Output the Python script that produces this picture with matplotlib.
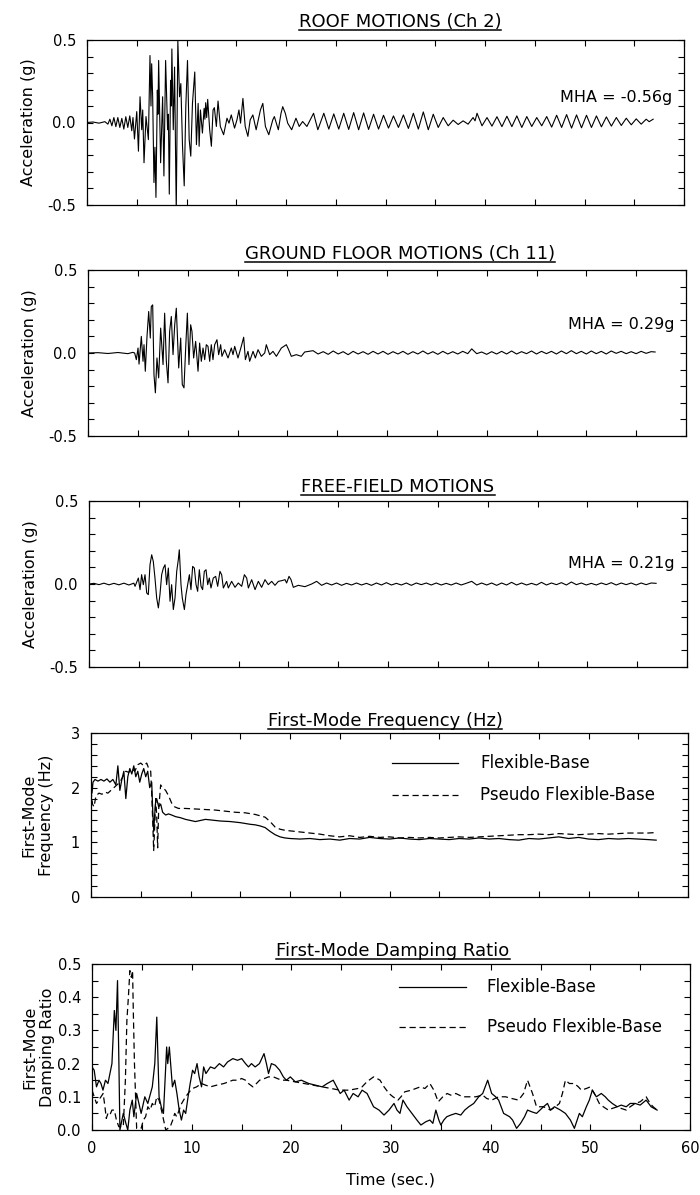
import numpy as np
import matplotlib.pyplot as plt
from matplotlib.ticker import MultipleLocator
from matplotlib.lines import Line2D

plt.rcParams['font.family'] = ['DejaVu Sans']

# (time s, acceleration g), Ch 2
roof = [(0.0, 0.0), (0.6, 0.003), (1.2, -0.004), (1.8, 0.005), (2.1, -0.01), (2.3, 0.02),
        (2.5, -0.02), (2.7, 0.03), (2.9, -0.025), (3.1, 0.03), (3.3, -0.03), (3.5, 0.025),
        (3.7, -0.04), (3.9, 0.035), (4.1, -0.03), (4.3, 0.04), (4.5, -0.05), (4.62, 0.03),
        (4.77, -0.10), (5.0, 0.066), (5.17, -0.174), (5.33, 0.156), (5.5, -0.044), (5.6, 0.076),
        (5.73, -0.244), (5.93, 0.036), (6.17, -0.104), (6.33, 0.406), (6.43, 0.1), (6.5, 0.356),
        (6.6, 0.156), (6.73, -0.364), (6.83, -0.15), (6.93, -0.454), (7.07, 0.196), (7.13, 0.05),
        (7.2, 0.376), (7.4, -0.244), (7.6, 0.156), (7.73, -0.324), (7.9, 0.376), (8.1, -0.044),
        (8.18, 0.05), (8.27, -0.434), (8.4, 0.256), (8.47, 0.1), (8.53, 0.446), (8.67, -0.044),
        (8.8, 0.336), (8.97, -0.544), (9.13, 0.496), (9.3, 0.156), (9.43, 0.236), (9.6, -0.144),
        (9.77, -0.384), (9.93, 0.096), (10.1, 0.376), (10.27, -0.104), (10.43, -0.204),
        (10.6, 0.116), (10.83, 0.306), (11.0, -0.134), (11.17, 0.116), (11.27, -0.144),
        (11.4, 0.076), (11.6, -0.064), (11.77, 0.086), (11.85, 0.02), (11.93, 0.12),
        (12.03, 0.03), (12.13, 0.14), (12.33, -0.044), (12.5, -0.144), (12.67, 0.076),
        (12.8, 0.09), (13.0, -0.024), (13.17, 0.13), (13.4, -0.024), (13.73, -0.074),
        (14.07, 0.026), (14.27, -0.004), (14.5, 0.046), (14.83, -0.034), (15.07, 0.016),
        (15.27, 0.076), (15.43, -0.004), (15.67, 0.146), (15.9, -0.024), (16.17, -0.084),
        (16.4, 0.016), (16.67, 0.046), (17.0, -0.044), (17.43, 0.076), (17.67, 0.116),
        (17.93, -0.024), (18.27, -0.074), (18.67, 0.016), (18.83, 0.036), (19.23, -0.044),
        (19.5, 0.056), (19.67, 0.096), (19.93, 0.056), (20.17, -0.004), (20.57, -0.044),
        (21.0, 0.026), (21.33, -0.024), (21.67, 0.006), (22.1, -0.024), (22.77, 0.056),
        (23.2, -0.044), (23.8, 0.056), (24.3, -0.04), (24.8, 0.052), (25.3, -0.04), (25.8, 0.056),
        (26.3, -0.042), (26.8, 0.06), (27.3, -0.044), (27.8, 0.058), (28.3, -0.042), (28.8, 0.05),
        (29.3, -0.04), (29.8, 0.044), (30.3, -0.034), (30.8, 0.04), (31.3, -0.03), (31.8, 0.046),
        (32.3, -0.036), (32.8, 0.056), (33.3, -0.04), (33.8, 0.064), (34.3, -0.044), (34.8, 0.05),
        (35.3, -0.03), (35.8, 0.03), (36.3, -0.02), (36.8, 0.014), (37.3, -0.012), (37.8, 0.01),
        (38.3, -0.01), (38.8, 0.03), (39.0, 0.01), (39.2, 0.056), (39.7, -0.02), (40.2, 0.03),
        (40.7, -0.022), (41.2, 0.035), (41.7, -0.025), (42.2, 0.038), (42.7, -0.025), (43.2, 0.04),
        (43.7, -0.03), (44.2, 0.036), (44.7, -0.024), (45.2, 0.03), (45.7, -0.02), (46.2, 0.036),
        (46.7, -0.028), (47.2, 0.044), (47.7, -0.03), (48.2, 0.048), (48.7, -0.034), (49.2, 0.046),
        (49.7, -0.032), (50.2, 0.044), (50.7, -0.03), (51.2, 0.04), (51.7, -0.026), (52.2, 0.034),
        (52.7, -0.022), (53.2, 0.03), (53.7, -0.018), (54.2, 0.026), (54.7, -0.014), (55.2, 0.022),
        (55.7, -0.01), (56.2, 0.02), (56.5, 0.005), (56.9, 0.02)]

# ground floor, Ch 11
ground = [(0.0, 0.0), (1.0, 0.002), (2.0, -0.003), (3.0, 0.003), (4.0, -0.004), (4.5, 0.004),
          (4.68, 0.0), (4.85, -0.04), (5.02, 0.03), (5.12, -0.067), (5.35, 0.1), (5.52, -0.05),
          (5.62, 0.05), (5.75, -0.11), (5.92, 0.1), (6.09, 0.25), (6.25, 0.09), (6.35, 0.28),
          (6.49, 0.29), (6.62, -0.13), (6.76, -0.24), (6.92, -0.03), (7.09, -0.15), (7.29, 0.15),
          (7.53, -0.07), (7.69, 0.24), (7.86, -0.05), (8.03, -0.18), (8.19, 0.13), (8.36, 0.22),
          (8.53, -0.01), (8.7, 0.17), (8.86, 0.27), (9.1, -0.09), (9.3, 0.09), (9.46, -0.19),
          (9.63, -0.21), (9.8, 0.03), (9.97, 0.24), (10.13, -0.07), (10.3, 0.17), (10.43, 0.13),
          (10.6, -0.03), (10.8, 0.07), (11.04, -0.11), (11.2, 0.06), (11.37, -0.05), (11.54, 0.03),
          (11.71, -0.04), (11.87, 0.05), (12.04, 0.04), (12.21, -0.05), (12.37, 0.05),
          (12.54, -0.04), (12.71, 0.05), (12.94, 0.08), (13.11, -0.01), (13.31, 0.05),
          (13.44, -0.02), (13.71, 0.02), (14.05, -0.03), (14.38, 0.03), (14.55, -0.01),
          (14.72, 0.04), (15.05, -0.03), (15.38, 0.04), (15.62, 0.095), (15.79, -0.04),
          (16.05, 0.01), (16.22, -0.05), (16.56, 0.01), (16.79, -0.03), (17.06, 0.02),
          (17.39, -0.02), (17.73, 0.0), (17.89, 0.05), (18.23, -0.01), (18.56, 0.01),
          (18.9, -0.02), (19.4, 0.03), (19.9, 0.05), (20.13, 0.02), (20.4, -0.02), (20.9, -0.01),
          (21.4, -0.02), (21.74, 0.006), (22.58, 0.014), (23.08, -0.006), (23.6, 0.008),
          (24.1, -0.008), (24.6, 0.012), (25.1, -0.006), (25.6, 0.008), (26.1, -0.01), (26.6, 0.01),
          (27.1, -0.006), (27.6, 0.008), (28.1, -0.008), (28.6, 0.01), (29.1, -0.006), (29.6, 0.01),
          (30.1, -0.008), (30.6, 0.008), (31.1, -0.006), (31.6, 0.01), (32.1, -0.008), (32.6, 0.008),
          (33.1, -0.006), (33.6, 0.012), (34.1, -0.006), (34.6, 0.008), (35.1, -0.008), (35.6, 0.01),
          (36.1, -0.006), (36.6, 0.008), (37.1, -0.006), (37.6, 0.01), (38.1, -0.004), (38.5, 0.025),
          (39.0, -0.004), (39.5, 0.006), (40.0, -0.008), (40.5, 0.008), (41.0, -0.006), (41.5, 0.01),
          (42.0, -0.006), (42.5, 0.012), (43.0, -0.006), (43.5, 0.008), (44.0, -0.004), (44.5, 0.012),
          (45.0, -0.006), (45.5, 0.01), (46.0, -0.004), (46.5, 0.01), (47.0, -0.006), (47.5, 0.012),
          (48.0, -0.004), (48.5, 0.014), (49.0, -0.004), (49.5, 0.01), (50.0, -0.006), (50.5, 0.012),
          (51.0, -0.004), (51.5, 0.01), (52.0, -0.006), (52.5, 0.012), (53.0, -0.002), (53.5, 0.01),
          (54.0, -0.004), (54.5, 0.008), (55.0, -0.004), (55.5, 0.01), (56.0, -0.002), (56.5, 0.008),
          (56.9, 0.006)]

# free field
free = [(0.0, 0.0), (0.5, 0.004), (1.0, -0.004), (1.5, 0.005), (2.0, -0.005), (2.5, 0.004),
        (3.0, -0.005), (3.5, 0.005), (4.0, -0.006), (4.5, 0.005), (4.62, -0.014), (4.95, 0.036),
        (5.12, -0.034), (5.28, 0.056), (5.45, -0.004), (5.62, 0.056), (5.79, -0.054),
        (5.95, -0.064), (6.12, 0.116), (6.29, 0.176), (6.45, 0.136), (6.62, 0.036),
        (6.79, -0.084), (6.96, -0.144), (7.12, -0.064), (7.29, 0.056), (7.46, 0.096),
        (7.63, 0.116), (7.79, -0.004), (7.96, 0.096), (8.13, -0.104), (8.29, -0.004),
        (8.46, -0.154), (8.63, -0.084), (8.8, 0.076), (8.96, 0.146), (9.06, 0.206),
        (9.23, -0.004), (9.36, -0.084), (9.57, -0.154), (9.73, -0.064), (9.9, -0.004),
        (10.07, 0.056), (10.23, -0.034), (10.4, 0.106), (10.57, 0.096), (10.74, -0.004),
        (10.9, -0.044), (11.07, 0.086), (11.24, -0.014), (11.4, -0.034), (11.57, 0.076),
        (11.74, 0.086), (11.91, -0.004), (12.07, 0.036), (12.24, -0.024), (12.47, 0.036),
        (12.71, 0.046), (12.91, -0.014), (13.14, 0.076), (13.31, 0.056), (13.48, -0.024),
        (13.81, 0.016), (13.98, -0.024), (14.31, 0.016), (14.65, -0.02), (14.98, 0.006),
        (15.32, -0.014), (15.59, 0.056), (15.82, 0.036), (15.99, -0.024), (16.32, 0.026),
        (16.66, -0.034), (16.99, 0.016), (17.32, -0.02), (17.66, 0.026), (17.99, -0.004),
        (18.33, 0.016), (18.66, -0.008), (19.0, 0.016), (19.33, 0.02), (19.67, 0.026),
        (19.83, 0.006), (20.07, 0.046), (20.27, 0.026), (20.5, -0.02), (21.0, -0.008),
        (21.67, -0.016), (22.34, 0.0), (22.84, 0.016), (23.34, -0.008), (23.84, 0.006),
        (24.34, -0.006), (24.84, 0.006), (25.34, -0.008), (25.84, 0.004), (26.34, -0.006),
        (26.84, 0.006), (27.34, -0.006), (27.84, 0.004), (28.34, -0.008), (28.84, 0.006),
        (29.34, -0.006), (29.84, 0.008), (30.34, -0.006), (30.84, 0.004), (31.34, -0.006),
        (31.84, 0.006), (32.34, -0.008), (32.84, 0.006), (33.34, -0.004), (33.84, 0.006),
        (34.34, -0.006), (34.84, 0.006), (35.34, -0.006), (35.84, 0.004), (36.34, -0.006),
        (36.84, 0.006), (37.34, -0.006), (37.84, 0.004), (38.4, 0.016), (38.9, -0.006),
        (39.4, 0.006), (39.9, -0.006), (40.4, 0.006), (40.9, -0.008), (41.4, 0.006),
        (41.9, -0.006), (42.4, 0.01), (42.9, -0.006), (43.4, 0.006), (43.9, -0.006),
        (44.4, 0.004), (44.9, -0.006), (45.4, 0.01), (45.9, -0.006), (46.4, 0.006),
        (46.9, -0.004), (47.4, 0.008), (47.9, -0.006), (48.4, 0.012), (48.9, -0.004),
        (49.4, 0.006), (49.9, -0.006), (50.4, 0.004), (50.9, -0.006), (51.4, 0.006),
        (51.9, -0.004), (52.4, 0.008), (52.9, -0.006), (53.4, 0.006), (53.9, -0.004),
        (54.4, 0.006), (54.9, -0.006), (55.4, 0.006), (55.9, -0.004), (56.4, 0.006), (56.9, 0.004)]

# first-mode frequency (Hz)
freq_flex = [(0.0, 2.2), (0.1, 1.9), (0.2, 2.1), (0.4, 2.15), (0.7, 2.12), (1.0, 2.15),
             (1.3, 2.12), (1.6, 2.16), (1.9, 2.1), (2.2, 2.15), (2.5, 2.05), (2.7, 2.4),
             (2.9, 1.95), (3.1, 2.15), (3.3, 2.3), (3.5, 1.8), (3.7, 2.2), (3.9, 2.35),
             (4.1, 2.25), (4.3, 2.4), (4.5, 2.2), (4.7, 2.3), (4.9, 2.1), (5.1, 2.25),
             (5.3, 2.35), (5.5, 2.2), (5.7, 2.3), (5.9, 2.0), (6.1, 2.1), (6.2, 1.6), (6.3, 1.2),
             (6.4, 1.5), (6.5, 1.75), (6.6, 1.8), (6.8, 1.65), (7.0, 1.7), (7.2, 1.55),
             (7.5, 1.5), (7.8, 1.52), (8.1, 1.5), (8.5, 1.47), (9.0, 1.45), (9.5, 1.42),
             (10.0, 1.40), (10.5, 1.38), (11.0, 1.40), (11.5, 1.42), (12.0, 1.41), (12.5, 1.40),
             (13.0, 1.39), (14.0, 1.38), (15.0, 1.36), (16.0, 1.33), (16.5, 1.32), (17.0, 1.30),
             (17.5, 1.27), (18.0, 1.20), (18.5, 1.14), (19.0, 1.10), (19.5, 1.08), (20.0, 1.07),
             (21.0, 1.06), (22.0, 1.07), (23.0, 1.05), (24.0, 1.06), (25.0, 1.04), (26.0, 1.07),
             (27.0, 1.06), (28.0, 1.09), (29.0, 1.07), (30.0, 1.06), (31.0, 1.08), (32.0, 1.06),
             (33.0, 1.05), (34.0, 1.07), (35.0, 1.06), (36.0, 1.05), (37.0, 1.07), (38.0, 1.06),
             (39.0, 1.08), (40.0, 1.06), (41.0, 1.07), (42.0, 1.05), (43.0, 1.04), (44.0, 1.07),
             (45.0, 1.06), (46.0, 1.08), (47.0, 1.10), (48.0, 1.07), (49.0, 1.09), (50.0, 1.06),
             (51.0, 1.05), (52.0, 1.07), (53.0, 1.06), (54.0, 1.07), (55.0, 1.06), (56.0, 1.05),
             (56.8, 1.04)]
freq_pseudo = [(0.0, 1.95), (0.15, 1.7), (0.3, 1.65), (0.5, 1.85), (0.8, 1.9), (1.1, 1.88),
               (1.4, 1.92), (1.7, 1.9), (2.0, 1.95), (2.3, 2.0), (2.6, 2.05), (2.9, 2.1),
               (3.2, 2.2), (3.5, 2.3), (3.8, 2.28), (4.1, 2.35), (4.4, 2.3), (4.7, 2.42),
               (5.0, 2.45), (5.3, 2.4), (5.6, 2.45), (5.8, 2.35), (6.0, 2.3), (6.1, 1.9),
               (6.2, 1.4), (6.3, 0.85), (6.4, 1.3), (6.5, 1.8), (6.6, 1.5), (6.7, 0.9), (6.8, 1.6),
               (7.0, 2.05), (7.2, 2.0), (7.5, 1.95), (7.8, 1.85), (8.1, 1.72), (8.4, 1.65),
               (8.8, 1.62), (9.5, 1.62), (10.5, 1.61), (11.5, 1.6), (12.5, 1.59), (13.5, 1.57),
               (14.5, 1.55), (15.5, 1.54), (16.5, 1.51), (17.5, 1.46), (18.0, 1.38), (18.5, 1.28),
               (19.0, 1.24), (19.5, 1.22), (20.0, 1.21), (21.0, 1.19), (22.0, 1.17), (23.0, 1.15),
               (24.0, 1.12), (25.0, 1.10), (26.0, 1.12), (27.0, 1.09), (28.0, 1.11), (29.0, 1.09),
               (30.0, 1.1), (31.0, 1.08), (32.0, 1.09), (33.0, 1.08), (34.0, 1.09), (35.0, 1.08),
               (36.0, 1.09), (37.0, 1.1), (38.0, 1.09), (39.0, 1.1), (40.0, 1.11), (41.0, 1.12),
               (42.0, 1.13), (43.0, 1.14), (44.0, 1.14), (45.0, 1.15), (46.0, 1.14), (47.0, 1.16),
               (48.0, 1.15), (49.0, 1.14), (50.0, 1.15), (51.0, 1.16), (52.0, 1.15), (53.0, 1.16),
               (54.0, 1.17), (55.0, 1.17), (56.0, 1.17), (56.8, 1.18)]

# first-mode damping ratio
damp_flex = [(0.0, 0.19), (0.22, 0.18), (0.45, 0.13), (0.7, 0.15), (0.9, 0.14), (1.1, 0.12),
             (1.35, 0.15), (1.6, 0.14), (1.8, 0.17), (2.0, 0.2), (2.24, 0.36), (2.4, 0.3),
             (2.56, 0.45), (2.7, 0.2), (2.8, 0.0), (3.14, 0.05), (3.4, 0.02), (3.59, 0.0),
             (3.8, 0.06), (4.04, 0.09), (4.2, 0.04), (4.48, 0.11), (4.7, 0.08), (4.93, 0.05),
             (5.3, 0.1), (5.6, 0.08), (6.05, 0.13), (6.3, 0.2), (6.5, 0.34), (6.73, 0.1),
             (6.95, 0.07), (7.17, 0.05), (7.49, 0.25), (7.6, 0.2), (7.76, 0.25), (8.07, 0.13),
             (8.3, 0.15), (8.52, 0.11), (8.75, 0.06), (8.97, 0.03), (9.19, 0.06), (9.4, 0.05),
             (9.64, 0.1), (9.85, 0.14), (10.09, 0.18), (10.3, 0.17), (10.54, 0.2), (10.75, 0.16),
             (10.99, 0.13), (11.2, 0.19), (11.43, 0.17), (11.88, 0.19), (12.3, 0.185),
             (12.78, 0.2), (13.2, 0.19), (13.6, 0.205), (14.13, 0.215), (14.6, 0.21),
             (15.02, 0.215), (15.4, 0.2), (15.7, 0.19), (16.0, 0.2), (16.37, 0.19), (16.8, 0.2),
             (17.26, 0.23), (17.5, 0.2), (17.71, 0.17), (18.0, 0.2), (18.39, 0.195),
             (18.83, 0.18), (19.2, 0.16), (19.5, 0.15), (19.9, 0.16), (20.4, 0.145),
             (21.0, 0.15), (21.75, 0.14), (22.4, 0.135), (23.09, 0.13), (23.6, 0.14),
             (24.2, 0.15), (24.9, 0.11), (25.3, 0.12), (25.8, 0.09), (26.2, 0.11), (26.7, 0.1),
             (27.1, 0.12), (27.6, 0.11), (28.25, 0.07), (28.8, 0.06), (29.3, 0.045),
             (29.8, 0.06), (30.3, 0.08), (30.6, 0.06), (30.9, 0.05), (31.2, 0.09), (31.6, 0.07),
             (32.1, 0.05), (32.6, 0.03), (33.0, 0.015), (33.5, 0.025), (33.9, 0.03),
             (34.2, 0.02), (34.5, 0.06), (34.8, 0.03), (35.0, 0.015), (35.3, 0.03),
             (35.6, 0.04), (36.0, 0.045), (36.5, 0.05), (37.0, 0.045), (37.4, 0.06),
             (37.8, 0.07), (38.3, 0.08), (38.8, 0.1), (39.2, 0.11), (39.7, 0.15), (40.1, 0.11),
             (40.5, 0.1), (40.8, 0.09), (41.3, 0.05), (41.9, 0.04), (42.2, 0.03), (42.6, 0.005),
             (43.0, 0.02), (43.4, 0.04), (43.7, 0.06), (44.1, 0.055), (44.6, 0.05),
             (45.3, 0.07), (45.7, 0.08), (46.0, 0.06), (46.4, 0.07), (47.0, 0.06),
             (47.5, 0.05), (48.0, 0.03), (48.4, 0.005), (48.9, 0.05), (49.2, 0.04),
             (49.6, 0.07), (49.9, 0.09), (50.2, 0.12), (50.6, 0.1), (51.1, 0.11),
             (51.5, 0.1), (51.8, 0.09), (52.2, 0.08), (52.7, 0.07), (53.1, 0.075),
             (53.6, 0.07), (54.0, 0.08), (54.5, 0.08), (55.0, 0.075), (55.6, 0.09),
             (56.1, 0.07), (56.7, 0.06)]
damp_pseudo = [(0.0, 0.12), (0.22, 0.1), (0.45, 0.08), (0.67, 0.09), (0.9, 0.1), (1.12, 0.11),
               (1.3, 0.07), (1.43, 0.035), (1.6, 0.05), (1.79, 0.045), (2.0, 0.06), (2.24, 0.06),
               (2.45, 0.03), (2.69, 0.01), (3.14, 0.01), (3.35, 0.15), (3.5, 0.33), (3.65, 0.4),
               (3.8, 0.48), (3.95, 0.46), (4.07, 0.48), (4.15, 0.35), (4.26, 0.2), (4.48, 0.005),
               (4.93, 0.005), (5.15, 0.03), (5.38, 0.04), (5.6, 0.07), (5.83, 0.06), (6.05, 0.08),
               (6.28, 0.07), (6.5, 0.1), (6.73, 0.09), (7.04, 0.05), (7.4, 0.0), (7.85, 0.01),
               (8.1, 0.03), (8.3, 0.05), (8.5, 0.04), (8.74, 0.06), (9.0, 0.08), (9.19, 0.09),
               (9.4, 0.1), (9.64, 0.11), (9.9, 0.12), (10.09, 0.125), (10.5, 0.13),
               (10.99, 0.14), (11.4, 0.135), (11.88, 0.13), (12.5, 0.135), (13.23, 0.14),
               (13.7, 0.145), (14.13, 0.15), (14.6, 0.15), (15.02, 0.155), (15.4, 0.15),
               (15.7, 0.14), (16.14, 0.13), (16.5, 0.14), (16.82, 0.15), (17.3, 0.155),
               (17.71, 0.16), (18.2, 0.16), (18.61, 0.155), (19.0, 0.15), (19.5, 0.15),
               (20.4, 0.145), (21.3, 0.14), (22.2, 0.135), (23.09, 0.13), (24.0, 0.125),
               (24.89, 0.12), (25.8, 0.12), (26.68, 0.125), (27.1, 0.13), (27.57, 0.145),
               (28.25, 0.16), (28.6, 0.155), (28.9, 0.15), (29.3, 0.13), (29.8, 0.11),
               (30.2, 0.1), (30.7, 0.09), (31.0, 0.1), (31.38, 0.115), (32.05, 0.12),
               (32.5, 0.125), (32.94, 0.13), (33.4, 0.125), (33.9, 0.14), (34.3, 0.12),
               (34.74, 0.085), (35.2, 0.1), (35.63, 0.11), (36.0, 0.105), (36.5, 0.11),
               (37.2, 0.1), (37.9, 0.1), (38.5, 0.1), (39.2, 0.105), (39.6, 0.095), (40.1, 0.09),
               (40.8, 0.1), (41.5, 0.1), (42.1, 0.095), (42.8, 0.09), (43.3, 0.11), (43.7, 0.15),
               (44.2, 0.11), (44.6, 0.07), (45.3, 0.07), (46.0, 0.06), (46.5, 0.07), (46.9, 0.08),
               (47.2, 0.11), (47.5, 0.15), (47.9, 0.14), (48.4, 0.14), (48.8, 0.13), (49.1, 0.12),
               (49.6, 0.125), (50.0, 0.13), (50.4, 0.11), (50.9, 0.08), (51.3, 0.07), (51.8, 0.06),
               (52.2, 0.065), (52.7, 0.07), (53.1, 0.065), (53.6, 0.06), (54.0, 0.07),
               (54.5, 0.08), (55.0, 0.085), (55.6, 0.1), (56.0, 0.08), (56.3, 0.07), (56.7, 0.06)]

W, H = 700, 1195
fig = plt.figure(figsize=(W / 100, H / 100), dpi=100)
TICK_FS = 10.5
LABEL_FS = 11.5


def px_axes(left, top, right, bottom):
    return fig.add_axes([left / W, 1 - bottom / H, (right - left) / W, (bottom - top) / H])


def style(ax, ymaj, ymin, labels_x=False):
    ax.set_xlim(0, 60)
    ax.xaxis.set_major_locator(MultipleLocator(10))
    ax.xaxis.set_minor_locator(MultipleLocator(5))
    ax.yaxis.set_major_locator(MultipleLocator(ymaj))
    ax.yaxis.set_minor_locator(MultipleLocator(ymin))
    ax.tick_params(which='both', direction='in', top=True, right=True, labelsize=TICK_FS,
                   width=0.8, length=4)
    ax.tick_params(axis='y', pad=8)
    ax.tick_params(axis='x', pad=8)
    if not labels_x:
        ax.tick_params(labelbottom=False)
    for s in ax.spines.values():
        s.set_linewidth(0.9)


def plot_series(ax, pairs, **kw):
    t, v = zip(*pairs)
    ax.plot(t, v, color='black', **kw)


titles = []


def add_title(text, x_px, base_px):
    t = fig.text(x_px / W, 1 - base_px / H, text, ha='center', va='baseline', fontsize=13)
    titles.append(t)


acc_panels = [
    ((87, 40, 684, 205), roof, 'ROOF MOTIONS (Ch 2)', 400, 27, 'MHA = -0.56g', 0.15),
    ((88, 270, 686, 436), ground, 'GROUND FLOOR MOTIONS (Ch 11)', 400, 259, 'MHA = 0.29g', 0.17),
    ((89, 501, 687, 667), free, 'FREE-FIELD MOTIONS', 398, 492, 'MHA = 0.21g', 0.122),
]
for box, series, title, tx, ty, mha, ymha in acc_panels:
    ax = px_axes(*box)
    plot_series(ax, series, lw=0.8)
    ax.set_ylim(-0.5, 0.5)
    style(ax, 0.5, 0.1)
    ax.yaxis.set_major_formatter(lambda v, p: f'{v:.1f}')
    ax.set_ylabel('Acceleration (g)', fontsize=LABEL_FS)
    ax.yaxis.set_label_coords(-0.085, 0.5)
    ax.text(58.8, ymha, mha, ha='right', va='center', fontsize=11.5)
    add_title(title, tx, ty)

# frequency panel
ax4 = px_axes(91, 733, 688, 897)
plot_series(ax4, freq_flex, lw=0.9)
plot_series(ax4, freq_pseudo, lw=0.9, dashes=(5, 3))
ax4.set_ylim(0, 3)
style(ax4, 1, 0.2)
ax4.set_ylabel('First-Mode\nFrequency (Hz)', fontsize=LABEL_FS, linespacing=1.25)
ax4.yaxis.set_label_coords(-0.062, 0.5)
ax4.plot([30.3, 36.9], [2.45, 2.45], color='black', lw=0.9)
ax4.plot([30.3, 36.9], [1.87, 1.87], color='black', lw=0.9, dashes=(5, 3))
ax4.text(39.1, 2.45, 'Flexible-Base', va='center', fontsize=12)
ax4.text(39.1, 1.87, 'Pseudo Flexible-Base', va='center', fontsize=12)
add_title('First-Mode Frequency (Hz)', 385, 726)

# damping panel
ax5 = px_axes(92, 964, 690, 1130)
plot_series(ax5, damp_flex, lw=0.9)
plot_series(ax5, damp_pseudo, lw=0.9, dashes=(5, 3))
ax5.set_ylim(0, 0.5)
style(ax5, 0.1, 0.05, labels_x=True)
ax5.yaxis.set_major_formatter(lambda v, p: f'{v:.1f}')
ax5.set_ylabel('First-Mode\nDamping Ratio', fontsize=LABEL_FS, linespacing=1.25)
ax5.yaxis.set_label_coords(-0.062, 0.5)
ax5.set_xlabel('Time (sec.)', fontsize=LABEL_FS, labelpad=12)
ax5.plot([30.8, 37.5], [0.43, 0.43], color='black', lw=0.9)
ax5.plot([30.8, 37.5], [0.31, 0.31], color='black', lw=0.9, dashes=(5, 3))
ax5.text(39.6, 0.43, 'Flexible-Base', va='center', fontsize=12)
ax5.text(39.6, 0.31, 'Pseudo Flexible-Base', va='center', fontsize=12)
add_title('First-Mode Damping Ratio', 393, 956)

# underline the panel titles
fig.canvas.draw()
inv = fig.transFigure.inverted()
for t in titles:
    bb = t.get_window_extent().transformed(inv)
    ybase = t.get_position()[1] - 2.5 / H
    fig.add_artist(Line2D([bb.x0, bb.x1], [ybase, ybase], transform=fig.transFigure,
                          color='black', lw=1.1))

fig.savefig('out.png', dpi=100)
